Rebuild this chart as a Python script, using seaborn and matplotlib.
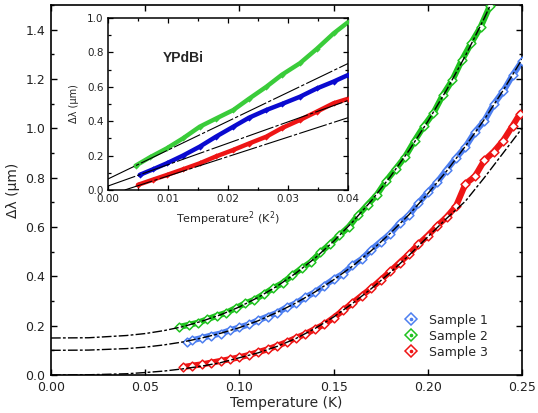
import matplotlib
matplotlib.use("Agg")
import numpy as np
import pandas as pd
import matplotlib.pyplot as plt
from matplotlib.lines import Line2D
from matplotlib.ticker import MultipleLocator
import seaborn as sns

# ---- main panel data: penetration depth shift vs temperature ----
t_s1 = [0.072, 0.075, 0.080, 0.085, 0.090, 0.095, 0.100, 0.105, 0.110, 0.115,
        0.120, 0.125, 0.130, 0.135, 0.140, 0.145, 0.150, 0.155, 0.160, 0.165,
        0.170, 0.175, 0.180, 0.185, 0.190, 0.195, 0.200, 0.205, 0.210, 0.215,
        0.220, 0.225, 0.230, 0.235, 0.240, 0.245, 0.250]
dl_s1 = [0.133, 0.141, 0.150, 0.160, 0.168, 0.181, 0.193, 0.205, 0.222, 0.237,
         0.252, 0.274, 0.291, 0.315, 0.335, 0.362, 0.388, 0.410, 0.445, 0.470,
         0.508, 0.540, 0.572, 0.615, 0.648, 0.697, 0.740, 0.782, 0.832, 0.880,
         0.925, 0.985, 1.030, 1.098, 1.150, 1.215, 1.272]

t_s2 = [0.068, 0.073, 0.078, 0.083, 0.088, 0.093, 0.098, 0.103, 0.108, 0.113,
        0.118, 0.123, 0.128, 0.133, 0.138, 0.143, 0.148, 0.153, 0.158, 0.163,
        0.168, 0.173, 0.178, 0.183, 0.188, 0.193, 0.198, 0.203, 0.208, 0.213,
        0.218, 0.223, 0.228, 0.233]
dl_s2 = [0.195, 0.203, 0.212, 0.226, 0.240, 0.252, 0.271, 0.290, 0.305, 0.328,
         0.352, 0.373, 0.404, 0.432, 0.458, 0.497, 0.530, 0.566, 0.600, 0.648,
         0.690, 0.731, 0.788, 0.836, 0.885, 0.950, 1.010, 1.062, 1.135, 1.195,
         1.275, 1.345, 1.410, 1.497]

t_s3 = [0.070, 0.075, 0.080, 0.085, 0.090, 0.095, 0.100, 0.105, 0.110, 0.115,
        0.120, 0.125, 0.130, 0.135, 0.140, 0.145, 0.150, 0.155, 0.160, 0.165,
        0.170, 0.175, 0.180, 0.185, 0.190, 0.195, 0.200, 0.205, 0.210, 0.215,
        0.220, 0.225, 0.230, 0.235, 0.240, 0.245, 0.249]
dl_s3 = [0.032, 0.038, 0.043, 0.050, 0.057, 0.064, 0.072, 0.081, 0.093, 0.104,
         0.118, 0.133, 0.150, 0.166, 0.186, 0.205, 0.232, 0.262, 0.292, 0.322,
         0.352, 0.385, 0.420, 0.455, 0.490, 0.530, 0.565, 0.605, 0.640, 0.685,
         0.775, 0.805, 0.870, 0.905, 0.950, 1.010, 1.060]

# power-law fit curves
t_fit = [0.00, 0.02, 0.04, 0.05, 0.06, 0.07, 0.08, 0.09, 0.10, 0.11, 0.12,
         0.13, 0.14, 0.15, 0.16, 0.17, 0.18, 0.19, 0.20, 0.21, 0.22, 0.23,
         0.24, 0.25]
fit_s1 = [0.100, 0.101, 0.107, 0.113, 0.122, 0.134, 0.150, 0.169, 0.192, 0.220,
          0.254, 0.292, 0.336, 0.386, 0.441, 0.504, 0.574, 0.650, 0.735, 0.827,
          0.928, 1.036, 1.154, 1.280]
fit_s2 = [0.150, 0.151, 0.160, 0.168, 0.180, 0.196, 0.218, 0.244, 0.276, 0.315,
          0.360, 0.413, 0.473, 0.542, 0.620, 0.706, 0.803, 0.910, 1.028, 1.156,
          1.295, 1.447, 1.610, 1.790]
fit_s3 = [0.000, 0.001, 0.005, 0.010, 0.016, 0.025, 0.036, 0.050, 0.070, 0.090,
          0.116, 0.148, 0.188, 0.235, 0.290, 0.350, 0.415, 0.485, 0.560, 0.635,
          0.705, 0.800, 0.900, 1.000]

# ---- inset data: vs temperature squared ----
t2_s1 = [0.0053, 0.0075, 0.0098, 0.0125, 0.0153, 0.0180, 0.0209, 0.0235,
         0.0264, 0.0290, 0.0320, 0.0348, 0.0376, 0.0400]
in_s1 = [0.088, 0.120, 0.155, 0.200, 0.252, 0.310, 0.368, 0.420,
         0.465, 0.500, 0.542, 0.590, 0.630, 0.668]
t2_s2 = [0.0046, 0.0070, 0.0098, 0.0125, 0.0153, 0.0180, 0.0209, 0.0235,
         0.0264, 0.0290, 0.0320, 0.0348, 0.0376, 0.0400]
in_s2 = [0.141, 0.190, 0.242, 0.300, 0.368, 0.415, 0.465, 0.530,
         0.600, 0.670, 0.737, 0.820, 0.910, 0.975]
t2_s3 = [0.0050, 0.0075, 0.0098, 0.0125, 0.0153, 0.0180, 0.0209, 0.0235,
         0.0264, 0.0290, 0.0320, 0.0348, 0.0376, 0.0400]
in_s3 = [0.030, 0.060, 0.087, 0.120, 0.155, 0.195, 0.233, 0.270,
         0.310, 0.360, 0.407, 0.455, 0.504, 0.530]

# linear T^2 fits in the inset (end points)
lin_t2 = {"Sample 1": [0.0, 0.04], "Sample 2": [0.0, 0.04], "Sample 3": [0.0028, 0.04]}
lin_dl = {"Sample 1": [0.023, 0.52], "Sample 2": [0.064, 0.735], "Sample 3": [0.0, 0.42]}

labels = ["Sample 1", "Sample 2", "Sample 3"]
main_colors = {"Sample 1": "#4d7ff0", "Sample 2": "#1fc21f", "Sample 3": "#ee1515"}
inset_colors = {"Sample 1": "#0a0ad0", "Sample 2": "#3acc3a", "Sample 3": "#ee1515"}

main_df = pd.concat([
    pd.DataFrame({"T": t_s1, "dl": dl_s1, "sample": "Sample 1"}),
    pd.DataFrame({"T": t_s2, "dl": dl_s2, "sample": "Sample 2"}),
    pd.DataFrame({"T": t_s3, "dl": dl_s3, "sample": "Sample 3"}),
])
inset_df = pd.concat([
    pd.DataFrame({"T2": t2_s1, "dl": in_s1, "sample": "Sample 1"}),
    pd.DataFrame({"T2": t2_s2, "dl": in_s2, "sample": "Sample 2"}),
    pd.DataFrame({"T2": t2_s3, "dl": in_s3, "sample": "Sample 3"}),
])
fits = {"Sample 1": fit_s1, "Sample 2": fit_s2, "Sample 3": fit_s3}

sns.set_style("ticks")
plt.rcParams["font.family"] = ["DejaVu Sans"]

fig = plt.figure(figsize=(5.38, 4.13), dpi=100)
ax = fig.add_axes([0.0948, 0.092, 0.8755, 0.896])

# thick band of dense data, then open diamonds on top
sns.lineplot(data=main_df, x="T", y="dl", hue="sample", palette=main_colors,
             sort=False, estimator=None, lw=4.4, legend=False, ax=ax, zorder=2)
for lab in labels:
    d = main_df[main_df["sample"] == lab]
    ax.scatter(d["T"], d["dl"], marker="D", s=20, facecolors="white",
               edgecolors=main_colors[lab], linewidths=1.1, zorder=3)
    ax.plot(t_fit, fits[lab], color="black", lw=1.0,
            linestyle=(0, (7, 1.6, 2, 1.6)), zorder=4)

ax.set_xlim(0, 0.25)
ax.set_ylim(0, 1.5)
ax.xaxis.set_major_locator(MultipleLocator(0.05))
ax.yaxis.set_major_locator(MultipleLocator(0.2))
ax.yaxis.set_minor_locator(MultipleLocator(0.1))
ax.xaxis.set_major_formatter(matplotlib.ticker.FormatStrFormatter("%.2f"))
ax.yaxis.set_major_formatter(matplotlib.ticker.FormatStrFormatter("%.1f"))
ax.tick_params(which="both", direction="in", top=True, right=True,
               labelsize=9, width=1.0, color="black", labelcolor="#222222")
ax.tick_params(which="major", length=4, pad=4)
ax.tick_params(which="minor", length=2.5)
ax.tick_params(axis="x", which="minor", top=False, bottom=False)
for sp in ax.spines.values():
    sp.set_linewidth(1.2)
    sp.set_color("black")
ax.set_xlabel("Temperature (K)", fontsize=10, labelpad=2)
ax.set_ylabel("Δλ (μm)", fontsize=10, labelpad=4)

handles = []
for lab in labels:
    h1 = Line2D([], [], marker="D", ls="none", ms=6, mfc="white",
                mec=main_colors[lab], mew=1.1)
    h2 = Line2D([], [], marker="o", ls="none", ms=1.6, mfc=main_colors[lab],
                mec=main_colors[lab])
    handles.append((h1, h2))
ax.legend(handles, labels, loc="upper left", bbox_to_anchor=(0.752, 0.166),
          frameon=False, fontsize=9, handlelength=1.0, handletextpad=0.9,
          labelspacing=0.25, borderpad=0, borderaxespad=0)

# ---- inset ----
ins = fig.add_axes([0.2007, 0.540, 0.446, 0.4165])
ins.set_facecolor("white")
sns.lineplot(data=inset_df, x="T2", y="dl", hue="sample", palette=inset_colors,
             sort=False, estimator=None, lw=3.2, legend=False, ax=ins, zorder=2)
for lab in labels:
    d = inset_df[inset_df["sample"] == lab]
    ins.scatter(d["T2"], d["dl"], marker="D", s=10, color=inset_colors[lab],
                linewidths=0, zorder=3)
    ins.plot(lin_t2[lab], lin_dl[lab], color="black", lw=0.8,
             linestyle=(0, (26, 2, 3, 2)), zorder=4)

ins.set_xlim(0, 0.04)
ins.set_ylim(0, 1.0)
ins.xaxis.set_major_locator(MultipleLocator(0.01))
ins.xaxis.set_minor_locator(MultipleLocator(0.005))
ins.yaxis.set_major_locator(MultipleLocator(0.2))
ins.yaxis.set_minor_locator(MultipleLocator(0.1))
ins.xaxis.set_major_formatter(matplotlib.ticker.FormatStrFormatter("%.2f"))
ins.yaxis.set_major_formatter(matplotlib.ticker.FormatStrFormatter("%.1f"))
ins.tick_params(which="both", direction="in", top=True, right=True,
                labelsize=7.5, width=0.9, color="black", labelcolor="#222222")
ins.tick_params(which="major", length=3.5, pad=3)
ins.tick_params(which="minor", length=2)
for sp in ins.spines.values():
    sp.set_linewidth(1.1)
    sp.set_color("black")
ins.set_xlabel("Temperature$^{2}$ (K$^{2}$)", fontsize=8, labelpad=4)
ins.set_ylabel("Δλ (μm)", fontsize=7, labelpad=6)
ins.text(0.0092, 0.77, "YPdBi", fontsize=10, fontweight="bold",
         family=["Liberation Sans", "DejaVu Sans"], va="center", ha="left")

fig.savefig("out.png", dpi=100)
